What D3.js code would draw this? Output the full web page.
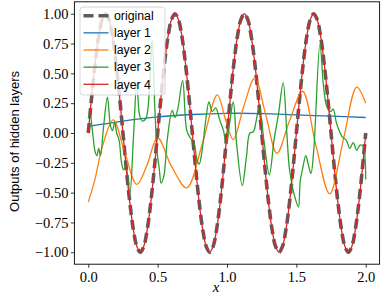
<!DOCTYPE html>
<html>
<head>
<meta charset="utf-8">
<script src="https://cdn.jsdelivr.net/npm/d3@7"></script>
<style>
  body { margin: 0; background: #fff; }
  svg { display: block; }
</style>
</head>
<body>
<script>
// sample grid for the two sine-like curves (step 0.025)
var xGrid = d3.range(0, 2.0001, 0.025);

var original = [
   0.000,  0.309,  0.588,  0.809,  0.951,  1.000,  0.951,  0.809,  0.588,  0.309,
   0.000, -0.309, -0.588, -0.809, -0.951, -1.000, -0.951, -0.809, -0.588, -0.309,
   0.000,  0.309,  0.588,  0.809,  0.951,  1.000,  0.951,  0.809,  0.588,  0.309,
   0.000, -0.309, -0.588, -0.809, -0.951, -1.000, -0.951, -0.809, -0.588, -0.309,
   0.000,  0.309,  0.588,  0.809,  0.951,  1.000,  0.951,  0.809,  0.588,  0.309,
   0.000, -0.309, -0.588, -0.809, -0.951, -1.000, -0.951, -0.809, -0.588, -0.309,
   0.000,  0.309,  0.588,  0.809,  0.951,  1.000,  0.951,  0.809,  0.588,  0.309,
   0.000, -0.309, -0.588, -0.809, -0.951, -1.000, -0.951, -0.809, -0.588, -0.309,
   0.000
];

var layer4 = [
   0.00,  0.31,  0.59,  0.81,  0.95,  1.00,  0.95,  0.81,  0.59,  0.31,
   0.00, -0.31, -0.59, -0.81, -0.95, -1.00, -0.95, -0.81, -0.59, -0.31,
   0.00,  0.31,  0.59,  0.81,  0.95,  1.00,  0.95,  0.81,  0.59,  0.31,
   0.00, -0.31, -0.59, -0.81, -0.95, -1.00, -0.95, -0.81, -0.59, -0.31,
   0.00,  0.31,  0.59,  0.81,  0.95,  1.00,  0.95,  0.81,  0.59,  0.31,
   0.00, -0.31, -0.59, -0.81, -0.95, -1.00, -0.95, -0.81, -0.59, -0.31,
   0.00,  0.31,  0.59,  0.81,  0.95,  1.00,  0.95,  0.81,  0.59,  0.31,
   0.00, -0.31, -0.59, -0.81, -0.95, -1.00, -0.95, -0.81, -0.59, -0.31,
   0.00
];

var layer1X = [0, 0.25, 0.5, 0.75, 1.0, 1.25, 1.5, 1.75, 2.0];
var layer1 = [0.055, 0.10, 0.135, 0.155, 0.165, 0.163, 0.152, 0.141, 0.13];

var layer2X = [0.00, 0.05, 0.10, 0.18, 0.26, 0.35, 0.42, 0.50, 0.60, 0.71, 0.82, 0.93,
               0.99, 1.045, 1.12, 1.20, 1.28, 1.36, 1.45, 1.545, 1.64, 1.74, 1.84, 1.935, 2.00];
var layer2 = [-0.58, -0.38, -0.12, 0.11, -0.15, -0.43, -0.28, -0.04, -0.28, -0.46, -0.10, 0.32,
              0.11, -0.055, 0.22, 0.46, 0.15, -0.17, 0.10, 0.35, -0.10, -0.51, -0.05, 0.385, 0.25];

var layer3X = [0.000, 0.012, 0.030, 0.048, 0.062, 0.075, 0.088, 0.110, 0.138, 0.160,
               0.175, 0.190, 0.205, 0.222, 0.240, 0.255, 0.270, 0.300, 0.325, 0.350,
               0.370, 0.390, 0.415, 0.440, 0.460, 0.480, 0.497, 0.512, 0.525, 0.545,
               0.570, 0.605, 0.625, 0.645, 0.680, 0.710, 0.735, 0.760, 0.785, 0.800,
               0.820, 0.846, 0.870, 0.894, 0.918, 0.950, 0.975, 0.993, 1.015, 1.045,
               1.070, 1.110, 1.140, 1.165, 1.190, 1.210, 1.232, 1.270, 1.305, 1.340,
               1.370, 1.405, 1.430, 1.450, 1.475, 1.495, 1.515, 1.528, 1.545, 1.568,
               1.585, 1.605, 1.625, 1.670, 1.695, 1.720, 1.745, 1.765, 1.790, 1.830,
               1.860, 1.885, 1.910, 1.935, 1.960, 1.980, 2.000];
var layer3 = [0.12, 0.16, 0.02, -0.15, -0.19, -0.13, -0.19, 0.05, 0.30, 0.06,
              0.02, 0.09, 0.00, -0.06, -0.25, -0.31, -0.27, -0.50, -0.05, 0.42,
              0.15, 0.10, 0.12, 0.35, 0.78, 0.20, -0.17, -0.30, -0.42, -0.36,
              -0.05, 0.19, 0.13, 0.20, 0.44, 0.02, -0.04, -0.08, -0.23, -0.26,
              -0.15, 0.10, 0.26, 0.18, 0.21, 0.10, 0.02, -0.09, 0.05, 0.26,
              -0.10, -0.44, -0.20, 0.00, 0.01, 0.10, 0.22, -0.10, -0.35, -0.05,
              0.15, 0.42, 0.02, -0.30, -0.47, -0.56, -0.62, -0.40, -0.30, -0.19,
              -0.26, -0.34, -0.15, 0.75, 0.40, 0.22, 0.18, 0.20, 0.08, -0.03,
              -0.06, -0.13, -0.08, -0.145, -0.10, -0.11, -0.39];

var legendNames = ["original", "layer 1", "layer 2", "layer 3", "layer 4"];
var xTicks = [0, 0.5, 1, 1.5, 2];
var xTickLabels = ["0.0", "0.5", "1.0", "1.5", "2.0"];
var yTicks = [-1, -0.75, -0.5, -0.25, 0, 0.25, 0.5, 0.75, 1];
var yTickLabels = ["\u22121.00", "\u22120.75", "\u22120.50", "\u22120.25", "0.00", "0.25", "0.50", "0.75", "1.00"];

var width = 381, height = 298;
var box = { left: 74.4, right: 379.6, top: 1.8, bottom: 264.2 };

var svg = d3.select("body").append("svg")
    .attr("width", width)
    .attr("height", height);

var x = d3.scaleLinear().domain([-0.1, 2.1]).range([box.left, box.right]);
var y = d3.scaleLinear().domain([-1.1, 1.1]).range([box.bottom, box.top]);

svg.append("clipPath").attr("id", "clip")
  .append("rect")
    .attr("x", box.left).attr("y", box.top)
    .attr("width", box.right - box.left).attr("height", box.bottom - box.top);

function pairs(xs, ys) { return xs.map((d, i) => [d, ys[i]]); }

var line = d3.line()
    .x(d => x(d[0]))
    .y(d => y(d[1]))
    .curve(d3.curveCatmullRom.alpha(0.5));

var series = [
  { name: "original", data: pairs(xGrid, original), color: "#5c5c5c", w: 3.6, dash: "10,5" },
  { name: "layer 1", data: pairs(layer1X, layer1), color: "#1f77b4", w: 1.3 },
  { name: "layer 2", data: pairs(layer2X, layer2), color: "#ff7f0e", w: 1.3 },
  { name: "layer 3", data: pairs(layer3X, layer3), color: "#2ca02c", w: 1.3 },
  { name: "layer 4", data: pairs(xGrid, layer4), color: "#d62728", w: 1.3 }
];

var plotG = svg.append("g").attr("clip-path", "url(#clip)");
plotG.selectAll("path")
  .data(series)
  .enter().append("path")
    .attr("d", d => line(d.data))
    .attr("fill", "none")
    .attr("stroke", d => d.color)
    .attr("stroke-width", d => d.w)
    .attr("stroke-dasharray", d => d.dash || null)
    .attr("stroke-linejoin", "round");

// axes
var xAxis = svg.append("g")
    .attr("transform", "translate(0," + box.bottom + ")")
    .call(d3.axisBottom(x).tickValues(xTicks).tickSize(3.5).tickPadding(4)
        .tickFormat((d, i) => xTickLabels[i]));
var yAxis = svg.append("g")
    .attr("transform", "translate(" + box.left + ",0)")
    .call(d3.axisLeft(y).tickValues(yTicks).tickSize(3.5).tickPadding(2.5)
        .tickFormat((d, i) => yTickLabels[i]));

[xAxis, yAxis].forEach(function(g) {
  g.select(".domain").remove();
  g.selectAll(".tick line").attr("stroke", "#000").attr("stroke-width", 0.8);
  g.selectAll(".tick text")
    .attr("fill", "#000")
    .style("font-family", "'Liberation Serif', serif")
    .style("font-size", "14.5px");
});

svg.append("rect")
    .attr("x", box.left).attr("y", box.top)
    .attr("width", box.right - box.left).attr("height", box.bottom - box.top)
    .attr("fill", "none")
    .attr("stroke", "#000")
    .attr("stroke-width", 0.9);

// axis labels
svg.append("text")
    .text("x")
    .attr("x", 216)
    .attr("y", 292)
    .attr("text-anchor", "middle")
    .style("font-family", "'Liberation Serif', serif")
    .style("font-style", "italic")
    .style("font-size", "15px");

svg.append("text")
    .text("Outputs of hidden layers")
    .attr("transform", "translate(19,141.5) rotate(-90)")
    .attr("text-anchor", "middle")
    .style("font-family", "'Liberation Sans', sans-serif")
    .style("font-size", "13px");

// legend
var legend = svg.append("g");
legend.append("rect")
    .attr("x", 80).attr("y", 7)
    .attr("width", 85).attr("height", 88)
    .attr("rx", 3)
    .attr("fill", "#fff").attr("fill-opacity", 0.8)
    .attr("stroke", "#ccc").attr("stroke-width", 0.8);

var rows = legend.selectAll("g.row")
  .data(series)
  .enter().append("g")
    .attr("class", "row")
    .attr("transform", (d, i) => "translate(0," + (15.7 + i * 17.15) + ")");

rows.append("line")
    .attr("x1", 83.5).attr("x2", 108.5)
    .attr("stroke", d => d.color)
    .attr("stroke-width", d => d.w)
    .attr("stroke-dasharray", d => d.dash || null);

rows.append("text")
    .text((d, i) => legendNames[i])
    .attr("x", 114)
    .attr("dy", "0.35em")
    .style("font-family", "'Liberation Sans', sans-serif")
    .style("font-size", "12.3px");
</script>
</body>
</html>
